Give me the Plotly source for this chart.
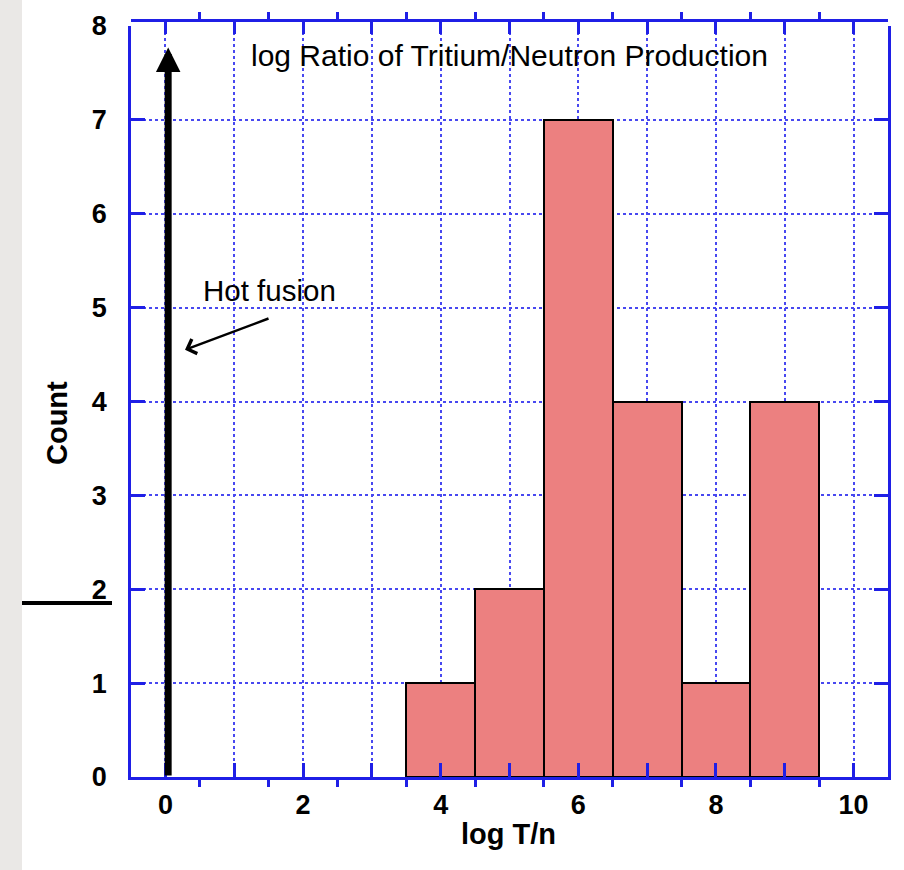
import plotly.graph_objects as go

# ---- data ----
bin_centers = [4, 5, 6, 7, 8, 9]
counts = [1, 2, 7, 4, 1, 4]
bin_width = 1.0
hot_fusion_logTn = 0.04
hot_fusion_arrow_top = 7.77
x_tick_vals = list(range(0, 11))
x_tick_text = ["0", "", "2", "", "4", "", "6", "", "8", "", "10"]
y_tick_vals = list(range(0, 9))
y_tick_text = [str(v) for v in y_tick_vals]

BLUE = "#1f1fe6"
GRID = "#4848f0"
BOLD_FONT = "Liberation Sans, Arial"
REG_FONT = "Liberation Sans, Arial"

fig = go.Figure()
fig.add_trace(go.Bar(
    x=bin_centers, y=counts, width=bin_width,
    marker=dict(color="#ec8080", line=dict(color="black", width=2)),
    showlegend=False, hoverinfo="skip",
))
# dummy trace for the top axis
fig.add_trace(go.Scatter(x=[None], y=[None], xaxis="x2", showlegend=False, hoverinfo="skip"))

axis_common = dict(
    showline=True, linecolor=BLUE, linewidth=2.5,
    tickcolor=BLUE, tickwidth=2.5, zeroline=False, automargin=False,
)

fig.update_layout(
    width=904, height=870,
    margin=dict(l=131, r=16, t=20, b=93, autoexpand=False),
    paper_bgcolor="white", plot_bgcolor="white",
    xaxis=dict(
        range=[-0.5, 10.5], tickmode="array", tickvals=x_tick_vals, ticktext=x_tick_text,
        ticks="inside", ticklen=14,
        showgrid=True, gridcolor=GRID, gridwidth=2, griddash="dot",
        minor=dict(tick0=0.5, dtick=1, ticks="outside", ticklen=7, tickwidth=2.5,
                   tickcolor=BLUE, showgrid=False),
        tickfont=dict(family=BOLD_FONT, size=27, color="black", weight="bold"),
        ticklabelstandoff=2,
        **axis_common,
    ),
    xaxis2=dict(
        range=[-0.5, 10.5], overlaying="x", anchor="free", position=1, side="top",
        tickmode="array", tickvals=x_tick_vals, ticktext=[""] * len(x_tick_vals),
        ticks="inside", ticklen=12, showgrid=False,
        minor=dict(tick0=0.5, dtick=1, ticks="outside", ticklen=7, tickwidth=2.5,
                   tickcolor=BLUE, showgrid=False),
        **axis_common,
    ),
    yaxis=dict(
        range=[0, 8], domain=[0, 751 / 757], tickmode="array", tickvals=y_tick_vals,
        ticktext=y_tick_text, ticks="inside", ticklen=14, mirror="ticks",
        showgrid=True, gridcolor=GRID, gridwidth=2, griddash="dot",
        tickfont=dict(family=BOLD_FONT, size=27, color="black", weight="bold"),
        ticklabelstandoff=16,
        **axis_common,
    ),
    bargap=0,
)

# left background strip and short black line
fig.add_shape(type="rect", xref="paper", yref="paper",
              x0=-131 / 757, x1=-109 / 757, y0=-93 / 757, y1=777 / 757,
              fillcolor="#eae8e6", line=dict(width=0), layer="below")
fig.add_shape(type="line", xref="paper", yref="paper",
              x0=-109 / 757, x1=-19 / 757, y0=174 / 757, y1=174 / 757,
              line=dict(color="black", width=4))

# titles
fig.add_annotation(text="log Ratio of Tritium/Neutron Production", x=5.0, y=7.69,
                   xref="x", yref="y", showarrow=False, xanchor="center", yanchor="middle",
                   font=dict(family=REG_FONT, size=30, color="black"))
fig.add_annotation(text="Count", x=-74 / 757, y=354 / 757, xref="paper", yref="paper",
                   showarrow=False, textangle=-90, xanchor="center", yanchor="middle",
                   font=dict(family=BOLD_FONT, size=29, color="black", weight="bold"))
fig.add_annotation(text="log T/n", x=377 / 757, y=-57 / 757, xref="paper", yref="paper",
                   showarrow=False, xanchor="center", yanchor="middle",
                   font=dict(family=BOLD_FONT, size=29, color="black", weight="bold"))

# hot fusion arrow (thick vertical)
fig.add_annotation(x=hot_fusion_logTn, y=hot_fusion_arrow_top,
                   ax=hot_fusion_logTn, ay=0, xref="x", yref="y", axref="x", ayref="y",
                   text="", showarrow=True, arrowhead=2, arrowwidth=7, arrowsize=0.7,
                   arrowcolor="black")
# hot fusion label with pointer
fig.add_annotation(text="Hot fusion", x=1.506, y=5.18, xref="x", yref="y", showarrow=False,
                   xanchor="center", yanchor="middle",
                   font=dict(family=REG_FONT, size=29.5, color="black"))
fig.add_annotation(x=0.285, y=4.55, ax=1.52, ay=4.89, xref="x", yref="y",
                   axref="x", ayref="y", text="", showarrow=True, arrowhead=4,
                   arrowwidth=2.5, arrowsize=1.2, arrowcolor="black")

fig.write_html("out.html", post_script="document.body.style.margin='0';",
               config={"displayModeBar": False})
